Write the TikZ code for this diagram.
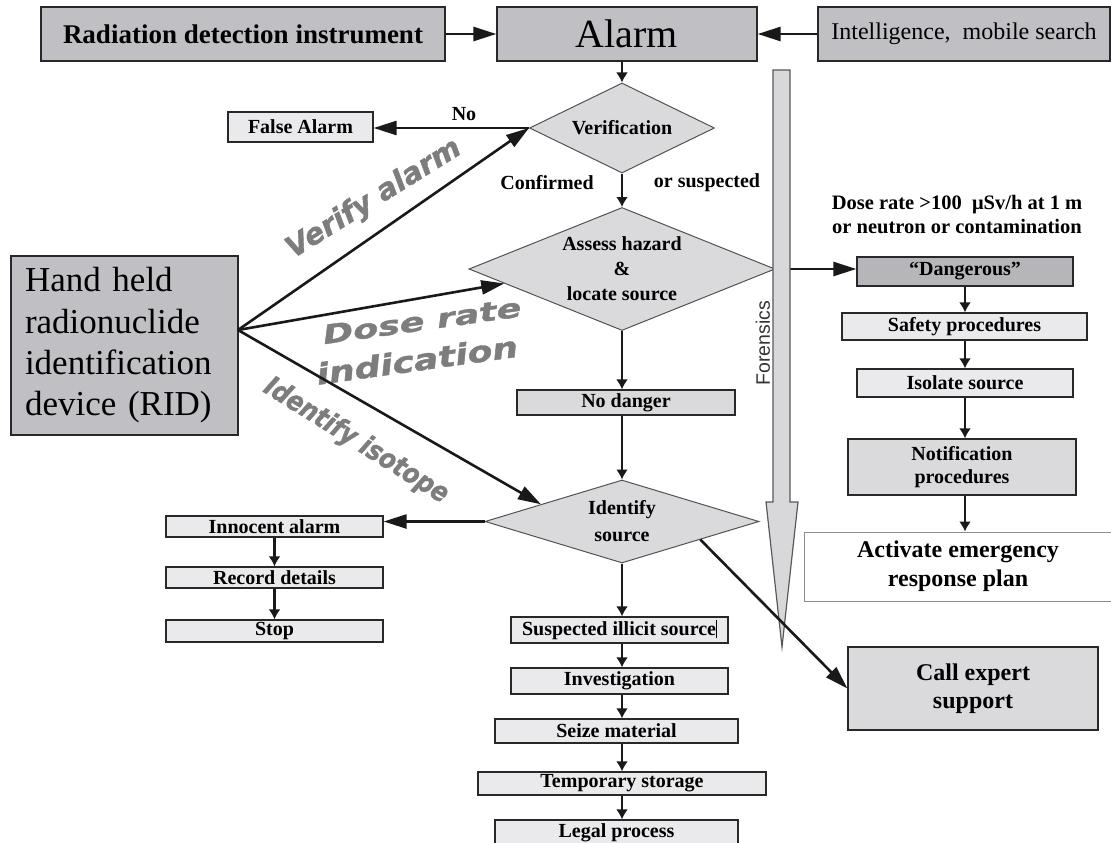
\documentclass[tikz,border=0pt]{standalone}
\usepackage{fontspec}
\setmainfont{Liberation Serif}
\newfontfamily\sansf{Liberation Sans}
\newfontfamily\lblfont[BoldItalicFeatures={FakeBold=1.3}]{DejaVu Sans}
\usetikzlibrary{shapes.geometric,arrows.meta}
\definecolor{darkfill}{RGB}{192,192,196}
\definecolor{dangfill}{RGB}{182,182,186}
\definecolor{midfill}{RGB}{218,218,221}
\definecolor{lightfill}{RGB}{234,234,236}
\definecolor{edge}{RGB}{40,40,40}
\definecolor{lblgray}{RGB}{125,125,125}
\definecolor{forfill}{RGB}{216,216,219}
\begin{document}
\begin{tikzpicture}[x=1pt,y=-1pt,
  bx/.style={draw=edge, line width=1.3pt, inner sep=0pt, align=center, font=\bfseries\fontsize{20}{23}\selectfont},
  dk/.style={bx, fill=darkfill},
  md/.style={bx, fill=midfill},
  lt/.style={bx, fill=lightfill},
  dia/.style={diamond, draw=edge!80, line width=1pt, fill=midfill, inner sep=0pt},
  arr/.style={line width=2.6pt, draw=black!90, -{Triangle[length=23pt,width=14pt]}},
  sarr/.style={line width=2.6pt, draw=black!90, -{Latex[length=10pt,width=12pt]}},
  lbl/.style={text=lblgray, inner sep=0pt},
  captxt/.style={font=\bfseries\fontsize{20}{24}\selectfont, inner sep=0pt, align=center}
]
\useasboundingbox (0,0) rectangle (1111,843);
\fill[white] (0,0) rectangle (1111,843);

% top row
\node[dk, minimum width=404pt, minimum height=54pt, font=\bfseries\fontsize{27}{30}\selectfont] (rad) at (243,34) {Radiation detection instrument};
\node[dk, minimum width=260pt, minimum height=54pt, font=\fontsize{40}{44}\selectfont] (alarm) at (627,34) {Alarm};
\node[dk, minimum width=292pt, minimum height=54pt, font=\fontsize{24}{28}\selectfont] (intel) at (964,34) {Intelligence,\ \ mobile search};

% central column
\node[lt, minimum width=145pt, minimum height=30pt] (false) at (300.5,127) {False Alarm};
\node[dia, minimum width=185pt, minimum height=90pt] (verif) at (622,128) {};
\node[captxt] (veriftxt) at (verif.center) {Verification};
\node[dia, minimum width=306pt, minimum height=123pt] (assess) at (622,269) {};
\node[captxt, font=\bfseries\fontsize{20}{25}\selectfont] (assesstxt) at (assess.center) {Assess hazard\\\&\\locate source};
\node[md, minimum width=218pt, minimum height=25pt] (nod) at (626,402.5) {No danger};
\node[dia, minimum width=274pt, minimum height=83pt] (ident) at (622,521.5) {};
\node[captxt, font=\bfseries\fontsize{20}{27}\selectfont] (identtxt) at (ident.center) {Identify\\source};

% left chain
\node[lt, minimum width=217pt, minimum height=21pt] (inno) at (274.5,526.5) {Innocent alarm};
\node[lt, minimum width=217pt, minimum height=21pt] (rec) at (274.5,577.5) {Record details};
\node[lt, minimum width=217pt, minimum height=22pt] (stop) at (274.5,631) {Stop};

% bottom chain
\node[lt, minimum width=217pt, minimum height=26pt] (susp) at (619.5,630) {Suspected illicit source\rule[-3pt]{0.9pt}{18pt}};
\node[lt, minimum width=217pt, minimum height=26pt] (inv) at (619.5,681) {Investigation};
\node[lt, minimum width=243pt, minimum height=24pt] (seize) at (616.5,731) {Seize material};
\node[lt, minimum width=288pt, minimum height=23pt] (temp) at (622,783.5) {Temporary storage};
\node[lt, minimum width=243pt, minimum height=26pt] (legal) at (616.5,833) {Legal process};

% right chain
\node[bx, fill=dangfill, minimum width=216pt, minimum height=29pt] (dang) at (965,271.5) {“Dangerous”};
\node[lt, minimum width=245pt, minimum height=27pt] (safe) at (964.5,326.5) {Safety procedures};
\node[lt, minimum width=216pt, minimum height=28pt] (iso) at (965,383) {Isolate source};
\node[md, minimum width=228pt, minimum height=56pt] (notif) at (962,467) {Notification\\procedures};
\node[bx, draw=black!45, line width=1pt, fill=white, minimum width=308pt, minimum height=69pt, font=\bfseries\fontsize{24}{29}\selectfont] (act) at (958,566.5) {Activate emergency\\response plan};
\node[md, minimum width=250pt, minimum height=83pt, font=\bfseries\fontsize{24}{28}\selectfont] (call) at (973,688.5) {Call expert\\support};

% RID
\node[dk, minimum width=227pt, minimum height=179pt, text width=199pt, align=left, font=\fontsize{35}{41.3}\selectfont] (rid) at (124.5,345.5) {Hand held\\radionuclide\\identification\\device (RID)};
\coordinate (ridpt) at (238,330);

% captions
\node[captxt] (no) at (464,114) {No};
\node[captxt] (conf) at (547,183) {Confirmed};
\node[captxt] (orsus) at (707,183) {or suspected};
\node[captxt, font=\bfseries\fontsize{20.5}{24}\selectfont] (dose) at (957,215) {Dose rate >100\ \ μSv/h at 1 m\\or neutron or contamination};

% gray labels
\node[lbl, rotate=32] (lva) at (374,199) {\resizebox{200pt}{22pt}{\lblfont\bfseries\itshape Verify alarm}};
\node[lbl, rotate=8] (ldr) at (422,321) {\resizebox{200pt}{19pt}{\lblfont\bfseries\itshape Dose rate}};
\node[lbl, rotate=8] (lind) at (417,360) {\resizebox{203pt}{22pt}{\lblfont\bfseries\itshape indication}};
\node[lbl, rotate=-32] (lii) at (356,441) {\resizebox{212pt}{21pt}{\lblfont\bfseries\itshape Identify isotope}};

% connectors
\draw[arr] (rad.east) -- (alarm.west);
\draw[arr] (intel.west) -- (alarm.east);
\draw[sarr] (alarm.south -| verif.north) -- (verif.north);
\draw[arr] (verif.west) -- (verif.west -| false.east);
\draw[sarr] (verif.south) -- (assess.north);
\draw[sarr] (assess.south) -- (assess.south |- nod.north);
\draw[sarr] (nod.south -| ident.north) -- (ident.north);
\draw[arr] (ident.west) -- (ident.west -| inno.east);
\draw[sarr] (inno.south) -- (rec.north);
\draw[sarr] (rec.south) -- (stop.north);
\draw[sarr] (ident.south) -- (ident.south |- susp.north);
\draw[sarr] (susp.south -| ident.south) -- (inv.north -| ident.south);
\draw[sarr] (inv.south -| ident.south) -- (seize.north -| ident.south);
\draw[sarr] (seize.south -| ident.south) -- (temp.north -| ident.south);
\draw[sarr] (temp.south -| ident.south) -- (legal.north -| ident.south);
\draw[sarr] (dang.south) -- (dang.south |- safe.north);
\draw[sarr] (safe.south -| dang.south) -- (iso.north -| dang.south);
\draw[sarr] (iso.south -| dang.south) -- (notif.north -| dang.south);
\draw[sarr] (notif.south -| dang.south) -- (act.north -| dang.south);
\draw[arr] (assess.east) -- (assess.east -| dang.west);
\draw[arr] (ridpt) -- (verif.west);
\draw[arr] (ridpt) -- (assess.187);
\draw[arr] (ridpt) -- (ident.168);

% forensics arrow
\draw[fill=forfill, draw=black!65, line width=1.2pt, line join=miter]
  (773,70) -- (790,70) -- (790,502) -- (798,502) -- (782,647) -- (766,502) -- (773,502) -- cycle;
\node[rotate=90, font=\sansf\fontsize{19.5}{22}\selectfont, text=black!80, inner sep=0pt] (fortxt) at (763,343) {Forensics};

\draw[arr] (ident.-13) -- (call.west);
\end{tikzpicture}
\end{document}
